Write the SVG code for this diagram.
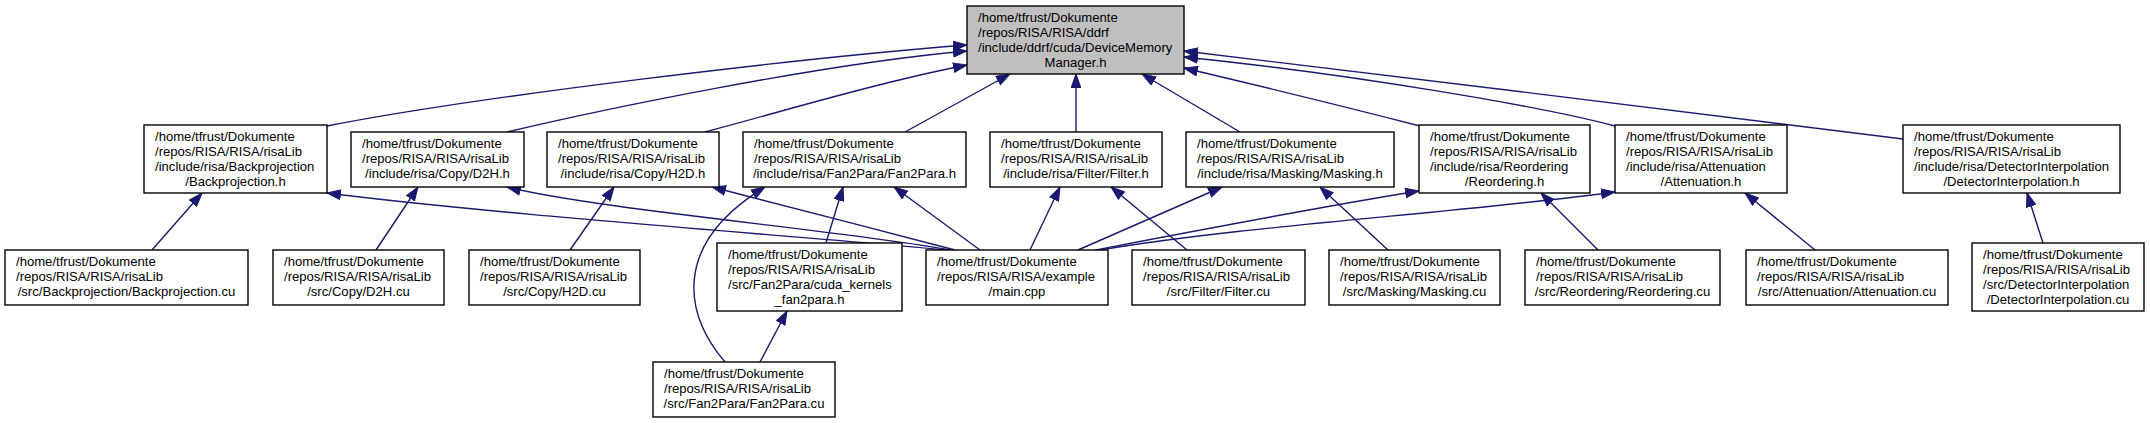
<svg xmlns="http://www.w3.org/2000/svg" width="2150" height="423" viewBox="0 0 2150 423">
<style>
.node rect{fill:#fff;stroke:#000;stroke-width:1.4}
#n_top rect{fill:#bfbfbf}
text{font-family:"Liberation Sans",Arial,Helvetica,sans-serif;font-size:13.1px;fill:#000}
.c{text-anchor:middle}
.edge{fill:none;stroke:#191970;stroke-width:1.4;marker-end:url(#arr)}
</style>
<defs>
<marker id="arr" markerUnits="userSpaceOnUse" markerWidth="15" markerHeight="11" refX="14" refY="5.5" orient="auto" viewBox="0 0 15 11">
<path d="M0.5,0.7 L14,5.5 L0.5,10.3 z" fill="#191970" stroke="#191970" stroke-width="1"/>
</marker>
</defs>
<rect width="2150" height="423" fill="#fff"/>

<g id="edges">
<path class="edge" d="M327,126 C480,96 800,58 967,45"/>
<path class="edge" d="M507,132 C600,110 820,64 967,51"/>
<path class="edge" d="M705,132 C780,112 880,82 967,65"/>
<path class="edge" d="M905,132 L1010,74"/>
<path class="edge" d="M1076,132 L1076,74"/>
<path class="edge" d="M1240,132 L1142,74"/>
<path class="edge" d="M1420,126 C1350,108 1260,86 1184,68"/>
<path class="edge" d="M1615,126 C1540,106 1350,74 1184,57"/>
<path class="edge" d="M1903,139 C1700,112 1400,78 1184,51"/>
<path class="edge" d="M152,250 L202,193"/>
<path class="edge" d="M945,250 C800,236 500,215 327,193"/>
<path class="edge" d="M376,250 L418,187"/>
<path class="edge" d="M950,250 C850,231 600,210 507,187"/>
<path class="edge" d="M570,250 L614,187"/>
<path class="edge" d="M955,250 C880,230 780,205 712,187"/>
<path class="edge" d="M725,362 C685,315 670,245 765,187"/>
<path class="edge" d="M826,243 L843,187"/>
<path class="edge" d="M980,250 L894,187"/>
<path class="edge" d="M1030,250 L1060,187"/>
<path class="edge" d="M1187,250 L1111,187"/>
<path class="edge" d="M1078,250 L1222,187"/>
<path class="edge" d="M1388,250 L1320,187"/>
<path class="edge" d="M1095,250 C1200,230 1330,205 1419,191"/>
<path class="edge" d="M1598,250 L1541,193"/>
<path class="edge" d="M1100,250 C1250,225 1450,214 1615,192"/>
<path class="edge" d="M1815,250 L1745,193"/>
<path class="edge" d="M2043,243 L2027,193"/>
<path class="edge" d="M760,362 L787,311"/>
</g>

<g id="n_top" class="node">
<rect x="967" y="6" width="217" height="68"/>
<text><tspan x="978" y="21.5">/home/tfrust/Dokumente</tspan><tspan x="978" y="36.5">/repos/RISA/RISA/ddrf</tspan><tspan x="978" y="51.5">/include/ddrf/cuda/DeviceMemory</tspan><tspan class="c" x="1075.5" y="66.5">Manager.h</tspan></text>
</g>
<g id="n_bp_h" class="node">
<rect x="144" y="125" width="183" height="68"/>
<text><tspan x="155" y="140.5">/home/tfrust/Dokumente</tspan><tspan x="155" y="155.5">/repos/RISA/RISA/risaLib</tspan><tspan x="155" y="170.5">/include/risa/Backprojection</tspan><tspan class="c" x="235.5" y="185.5">/Backprojection.h</tspan></text>
</g>
<g id="n_d2h_h" class="node">
<rect x="351" y="132" width="173" height="55"/>
<text><tspan x="362" y="148">/home/tfrust/Dokumente</tspan><tspan x="362" y="163">/repos/RISA/RISA/risaLib</tspan><tspan class="c" x="437.5" y="178">/include/risa/Copy/D2H.h</tspan></text>
</g>
<g id="n_h2d_h" class="node">
<rect x="547" y="132" width="172" height="55"/>
<text><tspan x="558" y="148">/home/tfrust/Dokumente</tspan><tspan x="558" y="163">/repos/RISA/RISA/risaLib</tspan><tspan class="c" x="633" y="178">/include/risa/Copy/H2D.h</tspan></text>
</g>
<g id="n_f2p_h" class="node">
<rect x="743" y="132" width="223" height="55"/>
<text><tspan x="754" y="148">/home/tfrust/Dokumente</tspan><tspan x="754" y="163">/repos/RISA/RISA/risaLib</tspan><tspan class="c" x="854.5" y="178">/include/risa/Fan2Para/Fan2Para.h</tspan></text>
</g>
<g id="n_fil_h" class="node">
<rect x="990" y="132" width="172" height="55"/>
<text><tspan x="1001" y="148">/home/tfrust/Dokumente</tspan><tspan x="1001" y="163">/repos/RISA/RISA/risaLib</tspan><tspan class="c" x="1076" y="178">/include/risa/Filter/Filter.h</tspan></text>
</g>
<g id="n_msk_h" class="node">
<rect x="1186" y="132" width="208" height="55"/>
<text><tspan x="1197" y="148">/home/tfrust/Dokumente</tspan><tspan x="1197" y="163">/repos/RISA/RISA/risaLib</tspan><tspan class="c" x="1290" y="178">/include/risa/Masking/Masking.h</tspan></text>
</g>
<g id="n_reo_h" class="node">
<rect x="1419" y="125" width="171" height="68"/>
<text><tspan x="1430" y="140.5">/home/tfrust/Dokumente</tspan><tspan x="1430" y="155.5">/repos/RISA/RISA/risaLib</tspan><tspan x="1430" y="170.5">/include/risa/Reordering</tspan><tspan class="c" x="1504.5" y="185.5">/Reordering.h</tspan></text>
</g>
<g id="n_att_h" class="node">
<rect x="1615" y="125" width="172" height="68"/>
<text><tspan x="1626" y="140.5">/home/tfrust/Dokumente</tspan><tspan x="1626" y="155.5">/repos/RISA/RISA/risaLib</tspan><tspan x="1626" y="170.5">/include/risa/Attenuation</tspan><tspan class="c" x="1701" y="185.5">/Attenuation.h</tspan></text>
</g>
<g id="n_di_h" class="node">
<rect x="1903" y="125" width="217" height="68"/>
<text><tspan x="1914" y="140.5">/home/tfrust/Dokumente</tspan><tspan x="1914" y="155.5">/repos/RISA/RISA/risaLib</tspan><tspan x="1914" y="170.5">/include/risa/DetectorInterpolation</tspan><tspan class="c" x="2011.5" y="185.5">/DetectorInterpolation.h</tspan></text>
</g>
<g id="n_bp_cu" class="node">
<rect x="5" y="250" width="243" height="55"/>
<text><tspan x="16" y="266">/home/tfrust/Dokumente</tspan><tspan x="16" y="281">/repos/RISA/RISA/risaLib</tspan><tspan class="c" x="126.5" y="296">/src/Backprojection/Backprojection.cu</tspan></text>
</g>
<g id="n_d2h_cu" class="node">
<rect x="273" y="250" width="171" height="55"/>
<text><tspan x="284" y="266">/home/tfrust/Dokumente</tspan><tspan x="284" y="281">/repos/RISA/RISA/risaLib</tspan><tspan class="c" x="358.5" y="296">/src/Copy/D2H.cu</tspan></text>
</g>
<g id="n_h2d_cu" class="node">
<rect x="469" y="250" width="171" height="55"/>
<text><tspan x="480" y="266">/home/tfrust/Dokumente</tspan><tspan x="480" y="281">/repos/RISA/RISA/risaLib</tspan><tspan class="c" x="554.5" y="296">/src/Copy/H2D.cu</tspan></text>
</g>
<g id="n_ck" class="node">
<rect x="717" y="243" width="185" height="68"/>
<text><tspan x="728" y="258.5">/home/tfrust/Dokumente</tspan><tspan x="728" y="273.5">/repos/RISA/RISA/risaLib</tspan><tspan x="728" y="288.5">/src/Fan2Para/cuda_kernels</tspan><tspan class="c" x="809.5" y="303.5">_fan2para.h</tspan></text>
</g>
<g id="n_main" class="node">
<rect x="926" y="250" width="182" height="55"/>
<text><tspan x="937" y="266">/home/tfrust/Dokumente</tspan><tspan x="937" y="281">/repos/RISA/RISA/example</tspan><tspan class="c" x="1017" y="296">/main.cpp</tspan></text>
</g>
<g id="n_fil_cu" class="node">
<rect x="1132" y="250" width="173" height="55"/>
<text><tspan x="1143" y="266">/home/tfrust/Dokumente</tspan><tspan x="1143" y="281">/repos/RISA/RISA/risaLib</tspan><tspan class="c" x="1218.5" y="296">/src/Filter/Filter.cu</tspan></text>
</g>
<g id="n_msk_cu" class="node">
<rect x="1329" y="250" width="171" height="55"/>
<text><tspan x="1340" y="266">/home/tfrust/Dokumente</tspan><tspan x="1340" y="281">/repos/RISA/RISA/risaLib</tspan><tspan class="c" x="1414.5" y="296">/src/Masking/Masking.cu</tspan></text>
</g>
<g id="n_reo_cu" class="node">
<rect x="1525" y="250" width="195" height="55"/>
<text><tspan x="1536" y="266">/home/tfrust/Dokumente</tspan><tspan x="1536" y="281">/repos/RISA/RISA/risaLib</tspan><tspan class="c" x="1622.5" y="296">/src/Reordering/Reordering.cu</tspan></text>
</g>
<g id="n_att_cu" class="node">
<rect x="1746" y="250" width="202" height="55"/>
<text><tspan x="1757" y="266">/home/tfrust/Dokumente</tspan><tspan x="1757" y="281">/repos/RISA/RISA/risaLib</tspan><tspan class="c" x="1847" y="296">/src/Attenuation/Attenuation.cu</tspan></text>
</g>
<g id="n_di_cu" class="node">
<rect x="1972" y="243" width="172" height="68"/>
<text><tspan x="1983" y="258.5">/home/tfrust/Dokumente</tspan><tspan x="1983" y="273.5">/repos/RISA/RISA/risaLib</tspan><tspan x="1983" y="288.5">/src/DetectorInterpolation</tspan><tspan class="c" x="2058" y="303.5">/DetectorInterpolation.cu</tspan></text>
</g>
<g id="n_f2p_cu" class="node">
<rect x="653" y="362" width="182" height="55"/>
<text><tspan x="664" y="378">/home/tfrust/Dokumente</tspan><tspan x="664" y="393">/repos/RISA/RISA/risaLib</tspan><tspan class="c" x="744" y="408">/src/Fan2Para/Fan2Para.cu</tspan></text>
</g>
</svg>
